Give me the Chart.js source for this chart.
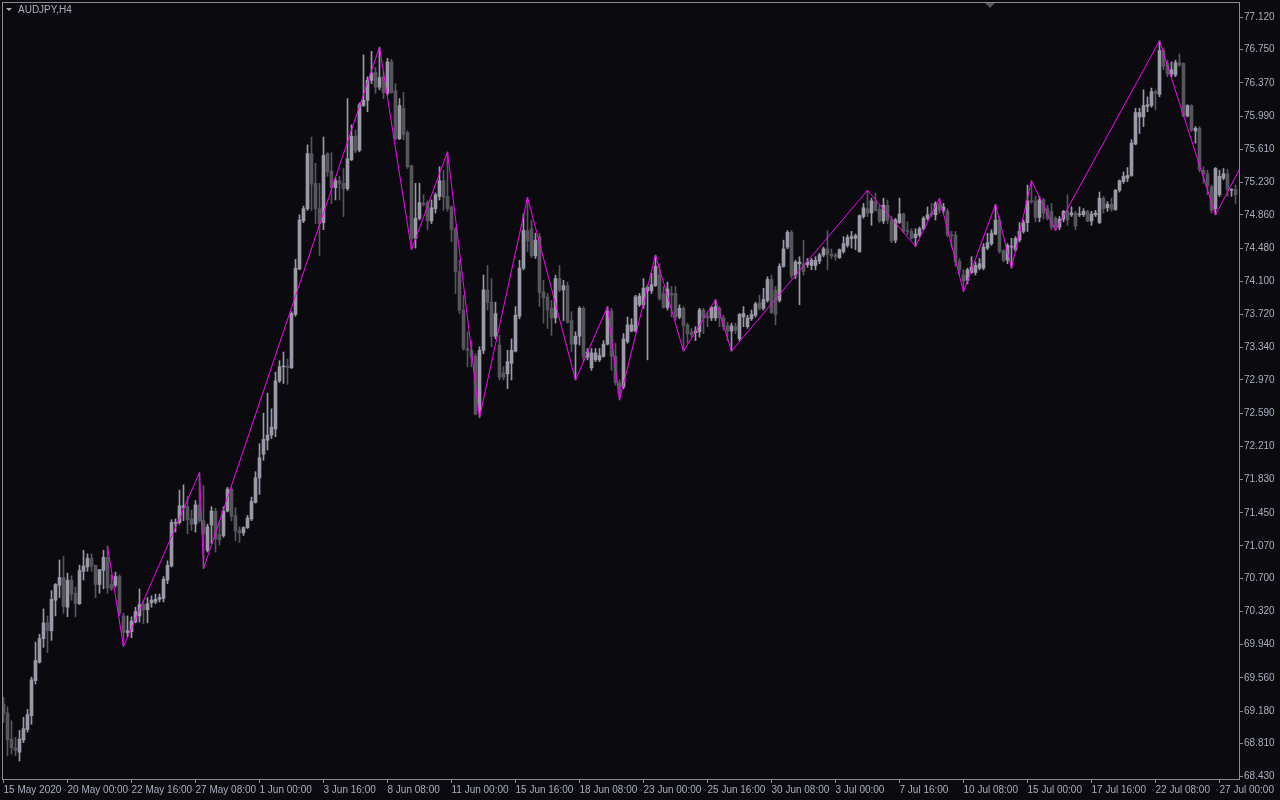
<!DOCTYPE html>
<html><head><meta charset="utf-8"><title>AUDJPY,H4</title>
<script src="https://cdn.jsdelivr.net/npm/chart.js@4.4.1/dist/chart.umd.min.js"></script>
<style>html,body{margin:0;padding:0;background:#0a0a0f;}canvas{display:block;}</style>
</head><body>
<canvas id="c" width="1280" height="800"></canvas>
<script>
var symbol='AUDJPY,H4';
// one row per H4 bar: [open, high, low, close]
var candles=[
[69.26,69.34,69.05,69.15],[69.16,69.23,68.67,68.85],[68.86,69.07,68.69,68.76],[68.76,68.88,68.67,68.73],[68.71,68.96,68.61,68.86],[68.85,69.11,68.82,68.98],[68.97,69.20,68.94,69.14],[69.13,69.57,69.03,69.54],
[69.53,69.97,69.49,69.76],[69.74,70.06,69.73,70.01],[70.01,70.35,69.91,70.19],[70.19,70.27,69.85,70.10],[70.10,70.56,69.99,70.46],[70.45,70.64,70.27,70.63],[70.62,70.91,70.48,70.71],[70.71,70.95,70.30,70.38],
[70.37,70.76,70.26,70.68],[70.68,70.73,70.45,70.52],[70.53,70.60,70.26,70.41],[70.41,70.85,70.40,70.79],[70.78,71.02,70.68,70.84],[70.83,70.98,70.78,70.93],[70.93,70.98,70.78,70.84],[70.85,70.85,70.48,70.63],
[70.63,70.80,70.53,70.80],[70.79,71.02,70.58,70.94],[70.94,71.07,70.53,70.59],[70.63,70.74,70.56,70.58],[70.62,70.77,70.60,70.72],[70.72,70.74,70.27,70.30],[70.27,70.30,69.92,70.08],[70.08,70.27,70.03,70.10],
[70.09,70.26,70.02,70.21],[70.20,70.37,70.19,70.32],[70.27,70.58,70.20,70.40],[70.40,70.45,70.18,70.34],[70.34,70.48,70.19,70.41],[70.42,70.50,70.37,70.45],[70.43,70.52,70.41,70.46],[70.46,70.52,70.43,70.48],
[70.47,70.72,70.43,70.69],[70.68,70.90,70.64,70.85],[70.84,71.37,70.83,71.34],[71.33,71.38,71.23,71.34],[71.34,71.71,71.32,71.53],[71.51,71.77,71.36,71.53],[71.52,71.64,71.21,71.37],[71.38,71.48,71.25,71.32],
[71.32,71.59,71.23,71.54],[71.54,71.91,71.34,71.36],[71.36,71.76,70.81,71.21],[71.02,71.32,71.00,71.29],[71.31,71.52,71.10,71.47],[71.47,71.50,71.00,71.15],[71.20,71.36,71.08,71.14],[71.19,71.52,71.17,71.47],
[71.47,71.74,71.46,71.72],[71.72,71.74,71.36,71.41],[71.42,71.51,71.13,71.24],[71.25,71.29,71.11,71.22],[71.22,71.29,71.19,71.28],[71.28,71.42,71.27,71.39],[71.38,71.63,71.36,71.58],[71.57,71.92,71.56,71.85],
[71.85,72.24,71.66,72.08],[72.12,72.59,72.05,72.29],[72.28,72.82,72.17,72.34],[72.34,72.64,72.30,72.43],[72.41,73.06,72.32,72.96],[72.96,73.19,72.94,73.12],[73.12,73.29,72.93,73.13],[73.13,73.21,72.92,73.11],
[73.11,73.75,73.10,73.73],[73.72,74.35,73.70,74.25],[74.24,74.86,74.23,74.80],[74.79,74.96,74.77,74.93],[74.93,75.66,74.91,75.56],[75.56,75.75,74.91,75.21],[75.22,75.45,74.76,74.93],[74.93,75.22,74.39,74.76],
[74.77,75.75,74.69,75.54],[75.56,75.57,75.30,75.35],[75.36,75.57,74.99,75.17],[75.17,75.28,75.03,75.25],[75.25,75.30,75.03,75.22],[75.22,75.39,74.84,75.16],[75.16,76.19,75.14,75.50],[75.49,75.89,75.48,75.76],
[75.76,75.83,75.57,75.59],[75.60,76.14,75.58,76.12],[76.11,76.69,76.10,76.17],[76.17,76.44,76.04,76.40],[76.40,76.73,76.36,76.48],[76.49,76.55,76.25,76.32],[76.32,76.78,76.29,76.43],[76.44,76.50,76.19,76.26],
[76.25,76.65,76.23,76.61],[76.61,76.64,76.25,76.26],[76.28,76.36,75.72,75.73],[75.73,76.19,75.72,76.11],[76.08,76.26,75.72,75.78],[75.80,75.82,75.39,75.41],[75.42,75.43,74.46,74.59],[74.59,75.22,74.48,74.82],
[74.82,75.22,74.80,75.00],[74.99,75.09,74.96,74.98],[75.00,75.02,74.69,74.79],[74.79,75.03,74.76,74.94],[74.93,75.11,74.88,75.09],[75.07,75.41,75.03,75.25],[75.25,75.37,74.91,75.06],[75.07,75.58,74.90,74.93],
[74.95,74.96,74.55,74.69],[74.70,74.72,73.96,74.21],[74.21,74.34,73.73,73.77],[73.77,73.94,73.31,73.33],[73.33,73.52,73.12,73.31],[73.31,73.42,73.12,73.23],[73.24,73.27,72.57,72.58],[72.62,73.35,72.54,73.31],
[73.31,74.17,73.27,74.00],[74.00,74.28,73.77,73.86],[73.86,74.13,73.35,73.47],[73.47,73.86,73.44,73.73],[73.37,73.48,72.97,73.00],[73.05,73.12,72.97,73.00],[73.04,73.31,72.87,73.18],[73.16,73.44,72.97,73.31],
[73.30,73.81,73.29,73.71],[73.70,74.34,73.67,74.25],[74.25,74.87,74.23,74.68],[74.68,75.06,74.44,74.56],[74.70,74.80,74.37,74.39],[74.39,74.65,74.36,74.57],[74.61,74.65,73.81,73.97],[73.98,74.11,73.62,73.91],
[73.92,73.96,73.56,73.77],[73.79,73.88,73.48,73.68],[73.68,74.17,73.62,74.13],[74.13,74.28,73.98,74.00],[74.00,74.11,73.65,74.05],[74.05,74.09,73.62,73.63],[73.65,73.75,73.29,73.38],[73.38,73.52,72.97,73.47],
[73.47,73.81,73.37,73.79],[73.79,73.81,73.18,73.23],[73.23,73.33,73.20,73.29],[73.11,73.33,73.08,73.28],[73.20,73.33,73.18,73.28],[73.20,73.33,73.18,73.25],[73.24,73.42,73.23,73.38],[73.38,73.81,73.37,73.76],
[73.76,73.79,73.08,73.24],[73.24,73.39,72.91,72.94],[72.94,72.97,72.74,72.81],[72.89,73.50,72.87,73.44],[73.41,73.69,73.39,73.60],[73.53,73.67,73.52,73.60],[73.53,73.94,73.52,73.92],[73.83,73.96,73.81,73.93],
[73.83,74.13,73.79,74.02],[73.99,74.05,73.20,74.03],[73.99,74.19,73.96,74.06],[74.05,74.40,74.04,74.27],[74.17,74.30,73.88,73.90],[73.96,74.04,73.79,73.80],[73.80,74.09,73.77,74.01],[73.96,74.04,73.69,73.94],
[73.96,74.04,73.65,73.69],[73.69,73.83,73.67,73.79],[73.79,73.81,73.30,73.59],[73.60,73.62,73.39,73.50],[73.52,73.56,73.46,73.49],[73.51,73.58,73.42,73.53],[73.52,73.79,73.46,73.77],[73.77,73.79,73.50,73.68],
[73.70,73.75,73.58,73.68],[73.68,73.81,73.65,73.80],[73.68,73.89,73.65,73.81],[73.79,73.81,73.58,73.68],[73.68,73.71,73.54,73.58],[73.59,73.63,73.42,73.53],[73.53,73.62,73.30,73.59],[73.58,73.62,73.50,73.54],
[73.44,73.73,73.42,73.72],[73.69,73.81,73.58,73.73],[73.58,73.71,73.56,73.68],[73.67,73.77,73.65,73.72],[73.71,73.86,73.69,73.84],[73.85,73.94,73.77,73.79],[73.79,74.02,73.77,73.89],[73.88,74.15,73.86,74.12],
[74.12,74.17,73.73,73.74],[74.00,74.04,73.60,73.72],[73.88,74.30,73.86,74.27],[74.27,74.57,74.26,74.47],[74.49,74.68,74.47,74.66],[74.66,74.68,74.13,74.16],[74.17,74.34,74.13,74.32],[74.30,74.38,73.83,74.32],
[74.30,74.57,74.17,74.21],[74.29,74.36,74.26,74.32],[74.28,74.36,74.23,74.34],[74.28,74.38,74.23,74.34],[74.33,74.42,74.30,74.40],[74.40,74.49,74.38,74.47],[74.47,74.68,74.23,74.41],[74.41,74.47,74.36,74.39],
[74.40,74.42,74.34,74.38],[74.37,74.47,74.36,74.46],[74.44,74.61,74.42,74.53],[74.51,74.63,74.49,74.60],[74.59,74.67,74.48,74.61],[74.59,74.64,74.46,74.62],[74.44,74.86,74.43,74.85],[74.84,74.99,74.82,74.94],
[74.93,75.14,74.84,74.88],[74.88,75.05,74.74,75.02],[75.01,75.11,74.90,74.91],[74.92,74.97,74.77,74.79],[74.79,75.05,74.76,74.97],[74.97,75.03,74.76,74.80],[74.80,74.84,74.54,74.56],[74.57,74.82,74.54,74.80],
[74.77,75.05,74.76,74.87],[74.87,74.88,74.65,74.67],[74.68,74.78,74.63,74.67],[74.67,74.70,74.58,74.59],[74.60,74.70,74.50,74.64],[74.63,74.72,74.61,74.70],[74.70,74.84,74.69,74.82],[74.82,74.95,74.80,74.86],
[74.88,74.99,74.84,74.86],[74.86,75.01,74.80,74.99],[74.99,75.05,74.88,74.91],[74.91,74.99,74.88,74.95],[74.90,74.93,74.61,74.63],[74.63,74.67,74.49,74.62],[74.63,74.67,74.27,74.32],[74.33,74.36,74.17,74.23],
[74.17,74.23,73.98,74.10],[74.11,74.25,74.07,74.23],[74.20,74.38,74.19,74.26],[74.20,74.32,74.17,74.28],[74.25,74.36,74.23,74.30],[74.25,74.53,74.23,74.49],[74.48,74.65,74.46,74.54],[74.53,74.69,74.51,74.65],
[74.64,74.98,74.63,74.80],[74.80,74.84,74.42,74.44],[74.45,74.46,74.32,74.34],[74.34,74.53,74.30,74.51],[74.49,74.59,74.25,74.50],[74.46,74.61,74.44,74.59],[74.57,74.77,74.55,74.67],[74.67,74.80,74.65,74.77],
[74.77,75.20,74.67,75.02],[75.02,75.25,74.99,75.01],[75.02,75.07,74.78,74.83],[74.83,75.07,74.78,75.03],[75.03,75.05,74.81,74.88],[74.93,74.97,74.80,74.82],[74.90,74.99,74.69,74.72],[74.82,74.84,74.68,74.72],
[74.72,74.84,74.69,74.81],[74.81,74.91,74.78,74.90],[74.90,75.09,74.74,74.80],[74.86,74.95,74.84,74.88],[74.88,74.90,74.69,74.73],[74.86,74.95,74.84,74.86],[74.86,74.93,74.84,74.90],[74.90,74.91,74.78,74.79],
[74.79,74.90,74.74,74.87],[74.86,74.91,74.84,74.88],[74.77,75.12,74.76,75.05],[75.05,75.07,74.88,74.93],[74.94,75.01,74.90,74.98],[74.98,75.05,74.90,74.92],[74.92,75.15,74.91,75.14],[75.14,75.26,75.12,75.25],
[75.24,75.35,75.22,75.30],[75.28,75.40,75.24,75.31],[75.31,75.72,75.30,75.68],[75.67,76.08,75.66,76.03],[75.98,76.08,75.79,76.03],[75.98,76.29,75.87,76.11],[76.10,76.21,76.04,76.12],[76.11,76.31,76.09,76.27],
[76.27,76.29,76.06,76.25],[76.24,76.85,76.21,76.74],[76.74,76.77,76.52,76.56],[76.59,76.63,76.44,76.47],[76.47,76.61,76.44,76.52],[76.46,76.63,76.44,76.60],[76.60,76.70,76.56,76.57],[76.59,76.60,75.98,75.99],
[75.99,76.12,75.98,76.11],[76.11,76.12,75.81,75.83],[75.82,75.87,75.68,75.85],[75.85,75.87,75.35,75.38],[75.37,75.41,75.22,75.33],[75.33,75.37,75.09,75.19],[75.18,75.20,74.88,74.91],[74.93,75.40,74.86,75.39],
[75.09,75.37,75.07,75.30],[75.28,75.39,75.26,75.33],[75.33,75.38,75.07,75.15],[75.14,75.16,75.07,75.15],[75.15,75.20,74.99,75.09]
];
// zigzag turning points: bar index and price
var zzIdx=[26,30,49,50,94,102,111,119,131,143,151,154,163,170,178,182,216,228,234,240,248,252,257,263,289,303,309];
var zzVal=[71.07,69.92,71.91,70.81,76.78,74.46,75.58,72.54,75.06,72.97,73.81,72.74,74.40,73.30,73.89,73.30,75.14,74.50,75.05,73.98,74.98,74.25,75.25,74.68,76.85,74.86,75.38];
var yTicks=[68.430,68.810,69.180,69.560,69.940,70.320,70.700,71.070,71.450,71.830,72.210,72.590,72.970,73.340,73.720,74.100,74.480,74.860,75.230,75.610,75.990,76.370,76.750,77.120];
var xTickIdx=[0,16,32,48,64,80,96,112,128,144,160,176,192,208,224,240,256,272,288,304];
var xTickLabels=['15 May 2020','20 May 00:00','22 May 16:00','27 May 08:00','1 Jun 00:00','3 Jun 16:00','8 Jun 08:00','11 Jun 00:00','15 Jun 16:00','18 Jun 08:00',
  '23 Jun 00:00','25 Jun 16:00','30 Jun 08:00','3 Jul 00:00','7 Jul 16:00','10 Jul 08:00','15 Jul 00:00','17 Jul 16:00','22 Jul 08:00','27 Jul 00:00'];

var BG='#0a0a0f',TXT='#a9aebc',FRAME='#8a8a90',UP='#9a9aa6',DN='#56565c',ZZ='#ff00ff';
var FONT={family:'Liberation Sans, Arial, sans-serif',size:10};

var colors=candles.map(function(c){return c[3]>=c[0]?UP:DN;});
var wickData=candles.map(function(c,i){return {x:i,y:[c[2],c[1]]};});
var bodyData=candles.map(function(c,i){return {x:i,y:[Math.min(c[0],c[3]),Math.max(c[0],c[3])]};});
var zzData=zzIdx.map(function(v,k){return {x:v,y:zzVal[k]};});

var chrome={id:'chrome',
  beforeDraw:function(ch){var x=ch.ctx;x.save();x.fillStyle=BG;x.fillRect(0,0,ch.width,ch.height);x.restore();},
  afterDraw:function(ch){
    var x=ch.ctx,a=ch.chartArea;
    x.save();
    x.strokeStyle=FRAME;x.lineWidth=1;
    x.strokeRect(a.left+0.5,a.top+0.5,a.right-a.left,a.bottom-a.top);
    x.fillStyle=TXT;
    x.beginPath();x.moveTo(6,8);x.lineTo(12,8);x.lineTo(9,11);x.closePath();x.fill();
    x.font='10px '+FONT.family;x.textBaseline='middle';x.textAlign='left';
    x.fillText(symbol,18,10);
    x.fillStyle='#55555c';
    x.beginPath();x.moveTo(985,3);x.lineTo(995,3);x.lineTo(990,8);x.closePath();x.fill();
    x.restore();
  }
};

new Chart(document.getElementById('c'),{
  type:'bar',
  data:{datasets:[
    {type:'line',data:zzData,borderColor:ZZ,borderWidth:1,pointRadius:0,tension:0,fill:false},
    {data:bodyData,backgroundColor:colors,barThickness:3,minBarLength:1,grouped:false,borderWidth:0},
    {data:wickData,backgroundColor:colors,barThickness:1,grouped:false,borderWidth:0}
  ]},
  options:{
    responsive:false,devicePixelRatio:1,animation:false,events:[],
    layout:{padding:{left:2,top:2,right:0,bottom:0}},
    plugins:{legend:{display:false},tooltip:{enabled:false}},
    scales:{
      x:{type:'linear',offset:false,min:-0.375,max:308.875,
        afterFit:function(s){s.height=21;s.paddingLeft=0;s.paddingRight=0;},
        afterBuildTicks:function(s){s.ticks=xTickIdx.map(function(v){return {value:v};});},
        ticks:{align:'start',autoSkip:false,maxRotation:0,color:TXT,font:FONT,padding:1,
          callback:function(v,k){return xTickLabels[k];}},
        grid:{drawOnChartArea:false,offset:false,tickLength:4,color:FRAME},border:{display:false}},
      y:{position:'right',min:68.4037,max:77.2951,
        afterFit:function(s){s.width=41;s.paddingTop=0;s.paddingBottom=0;},
        afterBuildTicks:function(s){s.ticks=yTicks.map(function(v){return {value:v};});},
        ticks:{autoSkip:false,color:TXT,font:FONT,padding:1,callback:function(v){return v.toFixed(3);}},
        grid:{drawOnChartArea:false,tickLength:4,color:FRAME},border:{display:false}}
    }
  },
  plugins:[chrome]
});
</script>
</body></html>
